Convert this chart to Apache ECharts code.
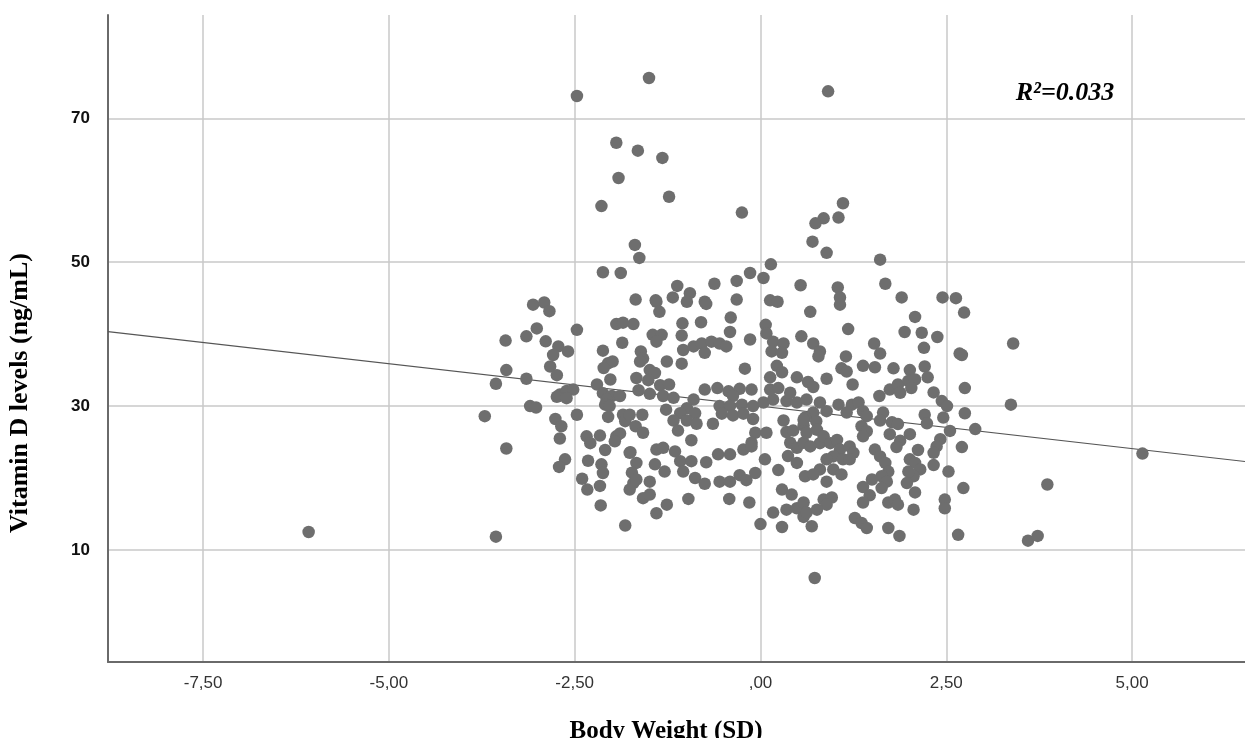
<!DOCTYPE html>
<html>
<head>
<meta charset="utf-8">
<script src="https://cdn.jsdelivr.net/npm/echarts@6/dist/echarts.min.js"></script>
<style>
html,body{margin:0;padding:0;background:#fff;}
#chart{width:1245px;height:738px;}
</style>
</head>
<body>
<div id="chart"></div>
<script>
// Body weight SD (x) and vitamin D level (y) for each subject
const weightSD = [
-1.50,-2.47,-1.94,-1.65,-1.32,-1.91,-1.23,-2.14,-0.25,-1.69,-1.63,-2.12,-1.88,-1.12,-0.95,-0.62,-0.32,-0.14,-1.68,-1.41,-1.18,-0.75,-0.32,0.04,
0.91,1.11,0.85,0.74,1.05,0.70,0.89,1.61,0.14,0.54,1.04,1.68,1.07,1.90,2.45,2.63,0.13,0.23,1.07,
-3.06,-2.91,-2.84,-3.01,-3.15,-3.43,-2.89,-2.72,-2.59,-2.79,-2.47,-1.94,-1.85,-1.71,-1.86,-2.12,-2.05,-1.99,-2.11,-1.61,-2.83,-2.74,-3.42,-3.15,-3.56,-2.02,-1.67,-2.20,
-2.12,-2.00,-1.89,-2.07,-2.70,-2.61,-2.52,-2.74,-2.61,-3.10,-3.02,-3.71,-2.47,-2.09,-2.03,-2.05,-1.85,-1.82,-2.76,-2.68,-2.70,-2.16,-2.34,-2.29,-1.94,-1.89,-1.96,-2.09,-3.42,
-1.75,-2.63,-2.71,-2.32,-2.14,-2.12,-2.40,-2.33,-2.16,-1.67,-1.71,-1.76,-2.15,-1.82,-3.56,-1.58,
-1.40,-1.36,-0.99,-0.73,0.67,-1.05,-1.06,-0.80,-0.40,-0.41,0.07,0.08,0.55,-1.45,-1.33,-1.40,-0.14,0.17,0.31,0.15,0.29,-1.04,-0.90,-0.79,-0.66,-0.55,-0.46,-0.75,
-1.58,-1.62,-1.26,-1.06,-0.21,-1.49,-1.42,0.22,0.29,0.13,0.49,-1.51,-1.64,-1.49,-1.35,-1.23,-1.31,-1.17,-1.27,-0.75,-0.58,-0.43,-0.28,-0.12,-0.37,-0.90,-0.99,-0.88,-1.08,
-0.55,-0.41,-0.25,-0.10,0.04,0.17,0.35,0.49,0.62,0.13,0.24,0.40,-1.76,-1.59,-1.68,-1.58,-1.17,-1.11,-0.99,-0.93,-0.86,-0.64,-0.52,-0.37,-0.23,-0.10,-0.07,-0.12,0.08,
0.31,0.35,0.44,0.58,0.40,0.49,0.58,-1.76,-1.73,-1.67,-1.42,-1.40,-1.31,-1.29,-1.15,-1.08,-1.04,-0.93,-0.73,-0.57,-0.41,-0.23,-0.12,0.06,0.24,0.37,0.49,0.60,
-0.88,-0.75,-0.55,-0.41,-0.28,-0.19,-0.07,-1.49,-1.49,-1.26,-1.40,-0.97,-0.42,-0.15,0.29,0.42,0.17,0.35,0.49,0.58,0.00,0.29,
2.74,2.08,1.18,1.94,2.17,2.38,2.20,2.68,2.71,0.71,0.80,0.78,1.53,1.61,1.15,1.09,1.16,1.38,1.54,1.79,2.01,2.21,2.25,0.89,1.24,0.64,0.71,
1.74,1.85,1.99,2.08,1.88,2.03,1.60,2.33,2.44,2.51,2.75,0.80,0.71,0.89,0.75,0.60,1.05,1.23,1.32,1.16,1.38,1.43,1.65,1.36,1.43,1.38,
1.61,1.77,1.85,1.74,1.88,1.83,2.01,2.21,2.24,2.46,2.55,2.42,2.37,2.33,2.89,2.71,2.12,2.33,2.53,2.01,2.08,2.15,2.06,1.99,
1.54,1.61,1.68,1.72,1.63,1.70,1.50,1.63,1.97,2.08,2.73,1.38,1.47,1.38,2.48,2.48,1.72,1.81,1.85,2.06,1.27,1.36,1.43,1.72,1.87,2.66,0.73,
0.58,0.62,0.76,0.80,0.67,0.85,0.94,1.03,1.07,0.98,1.11,0.89,0.80,0.98,1.09,0.89,0.71,1.20,1.25,1.20,0.85,0.96,0.89,0.58,0.62,0.76,0.69,
3.40,3.37,5.14,3.86,3.60,3.73,2.75,-6.08
];
const vitaminD = [
75.6,73.1,66.6,65.5,64.5,61.7,59.1,57.8,56.9,52.4,50.6,48.6,48.5,46.7,45.7,47.0,47.4,48.5,44.8,44.7,45.1,44.5,44.8,47.8,
73.75,58.2,56.1,55.4,56.2,52.85,51.3,50.35,49.7,46.8,46.5,47.0,45.1,45.1,45.1,45.0,44.7,44.5,44.1,
44.1,44.4,43.2,40.8,39.7,39.1,39.0,38.3,37.6,37.1,40.6,41.4,41.6,41.4,38.8,37.7,35.95,36.2,35.3,37.6,35.5,34.3,35.0,33.8,33.1,33.7,33.9,33.0,
31.8,31.4,31.4,30.9,31.6,32.1,32.3,31.3,31.1,30.0,29.8,28.6,28.8,30.2,30.0,28.5,28.8,27.9,28.2,27.2,25.5,25.9,25.8,24.85,25.8,26.2,25.1,23.9,24.1,
23.6,22.6,21.55,22.4,21.9,20.7,19.9,18.4,18.9,22.1,19.3,18.4,16.2,13.4,11.85,17.2,
44.5,43.1,44.5,44.2,43.1,41.5,39.8,41.65,42.3,40.3,41.3,40.1,39.7,39.9,39.9,38.95,39.25,38.95,38.7,37.6,37.4,37.8,38.3,38.7,38.95,38.7,38.3,37.4,
36.6,36.2,36.2,35.9,35.2,35.0,34.6,35.6,34.7,34.0,34.0,33.6,32.2,31.7,32.9,33.0,31.4,31.15,29.5,32.3,32.5,32.05,32.4,32.3,31.4,30.9,29.7,29.0,29.0,
30.0,30.0,30.2,30.0,30.5,30.9,30.7,30.5,30.9,32.3,32.5,31.85,28.8,28.8,27.2,26.3,28.0,26.6,28.0,25.25,27.55,27.55,28.95,28.7,28.95,28.2,26.3,24.9,26.3,
28.0,26.4,26.6,27.3,24.9,24.2,24.9,23.5,20.75,19.8,21.9,23.95,24.2,20.9,23.7,22.35,20.9,22.35,22.2,23.3,23.3,23.95,24.4,22.6,21.1,23.05,22.1,20.25,
20.0,19.2,19.5,19.5,20.4,19.7,20.7,19.5,17.7,16.3,15.1,17.1,17.1,16.6,18.4,17.7,15.2,15.6,15.8,14.6,13.6,13.2,
43.0,42.4,40.7,40.3,40.2,39.6,38.1,37.3,37.1,38.7,37.6,36.9,38.7,37.3,36.9,35.25,34.8,35.6,35.4,35.25,35.0,35.5,34.0,33.8,33.0,33.35,32.65,
32.3,33.0,33.5,33.7,31.85,32.5,31.4,31.9,30.7,30.0,32.5,30.5,29.1,29.3,27.9,28.4,30.2,30.2,30.5,29.1,29.3,28.6,29.1,27.2,26.5,25.8,
28.0,27.75,27.5,26.1,25.2,24.3,26.1,28.8,27.6,28.4,26.55,25.4,24.4,23.5,26.8,24.3,23.9,21.8,20.9,22.6,22.1,21.2,20.25,20.9,
23.95,23.0,22.1,20.9,20.25,19.5,19.8,18.6,19.3,18.0,18.6,18.75,17.6,16.6,17.0,15.8,16.6,17.0,16.3,15.6,14.45,13.75,13.05,13.05,11.95,12.1,6.1,
28.1,26.3,26.7,24.85,24.4,25.8,24.85,25.3,23.95,23.0,22.6,22.6,21.2,21.2,20.5,19.5,20.5,24.4,23.5,22.6,17.0,17.3,16.3,16.6,15.2,15.6,13.3,
38.7,30.2,23.4,19.1,11.3,11.95,29.0,12.5
];

// Fit line end points (at the axis edges)
const fitX = [-8.78, 6.52];
const fitY = [40.34, 22.3];

// Axis ticks and labels
const xTicks = [-7.5, -5, -2.5, 0, 2.5, 5];
const xTickLabels = ['-7,50', '-5,00', '-2,50', ',00', '2,50', '5,00'];
const yTicks = [10, 30, 50, 70];
const xRange = [-8.78, 6.52];
const yRange = [-5.57, 84.36];

const rSquaredText = 'R²=0.033';
const xTitle = 'Body Weight (SD)';
const yTitle = 'Vitamin D levels (ng/mL)';

const points = weightSD.map((x, i) => [x, vitaminD[i]]);
const fitLine = fitX.map((x, i) => [x, fitY[i]]);

const chart = echarts.init(document.getElementById('chart'), null, {renderer: 'canvas'});
chart.setOption({
  animation: false,
  backgroundColor: '#ffffff',
  grid: {left: 108, right: 0, top: 15, bottom: 76, containLabel: false},
  xAxis: {
    type: 'value',
    min: xRange[0], max: xRange[1],
    axisLine: {show: true, onZero: false, lineStyle: {color: '#6a6a6a', width: 2}},
    axisTick: {show: false, customValues: xTicks},
    axisLabel: {
      customValues: xTicks,
      formatter: v => { const i = xTicks.findIndex(t => Math.abs(t - v) < 1e-6); return i >= 0 ? xTickLabels[i] : ''; },
      color: '#333', fontFamily: 'Liberation Sans', fontSize: 17, margin: 13
    },
    splitLine: {show: true, lineStyle: {color: '#c8c8c8', width: 1.5}}
  },
  yAxis: {
    type: 'value',
    min: yRange[0], max: yRange[1],
    axisLine: {show: true, onZero: false, lineStyle: {color: '#6a6a6a', width: 2}},
    axisTick: {show: false, customValues: yTicks},
    axisLabel: {
      customValues: yTicks,
      color: '#111', fontFamily: 'Liberation Sans', fontWeight: 'bold', fontSize: 17, margin: 18
    },
    splitLine: {show: true, lineStyle: {color: '#c8c8c8', width: 1.5}}
  },
  series: [
    {
      type: 'line',
      data: fitLine,
      symbol: 'none',
      lineStyle: {color: '#555', width: 1.2},
      silent: true,
      z: 2
    },
    {
      type: 'scatter',
      data: points,
      symbol: 'circle',
      symbolSize: 12.5,
      itemStyle: {color: '#6e6e6e', opacity: 1},
      z: 3
    }
  ],
  graphic: [
    {
      type: 'text', x: 1065, y: 93,
      style: {text: rSquaredText, fill: '#000', font: 'italic bold 26px "Liberation Serif"', textAlign: 'center', textVerticalAlign: 'middle'}
    },
    {
      type: 'text', x: 666, y: 732,
      style: {text: xTitle, fill: '#000', font: 'bold 25px "Liberation Serif"', textAlign: 'center', textVerticalAlign: 'middle'}
    },
    {
      type: 'text', x: 20, y: 393, rotation: Math.PI / 2,
      style: {text: yTitle, fill: '#000', font: 'bold 26px "Liberation Serif"', textAlign: 'center', textVerticalAlign: 'middle'}
    }
  ]
});
</script>
</body>
</html>
